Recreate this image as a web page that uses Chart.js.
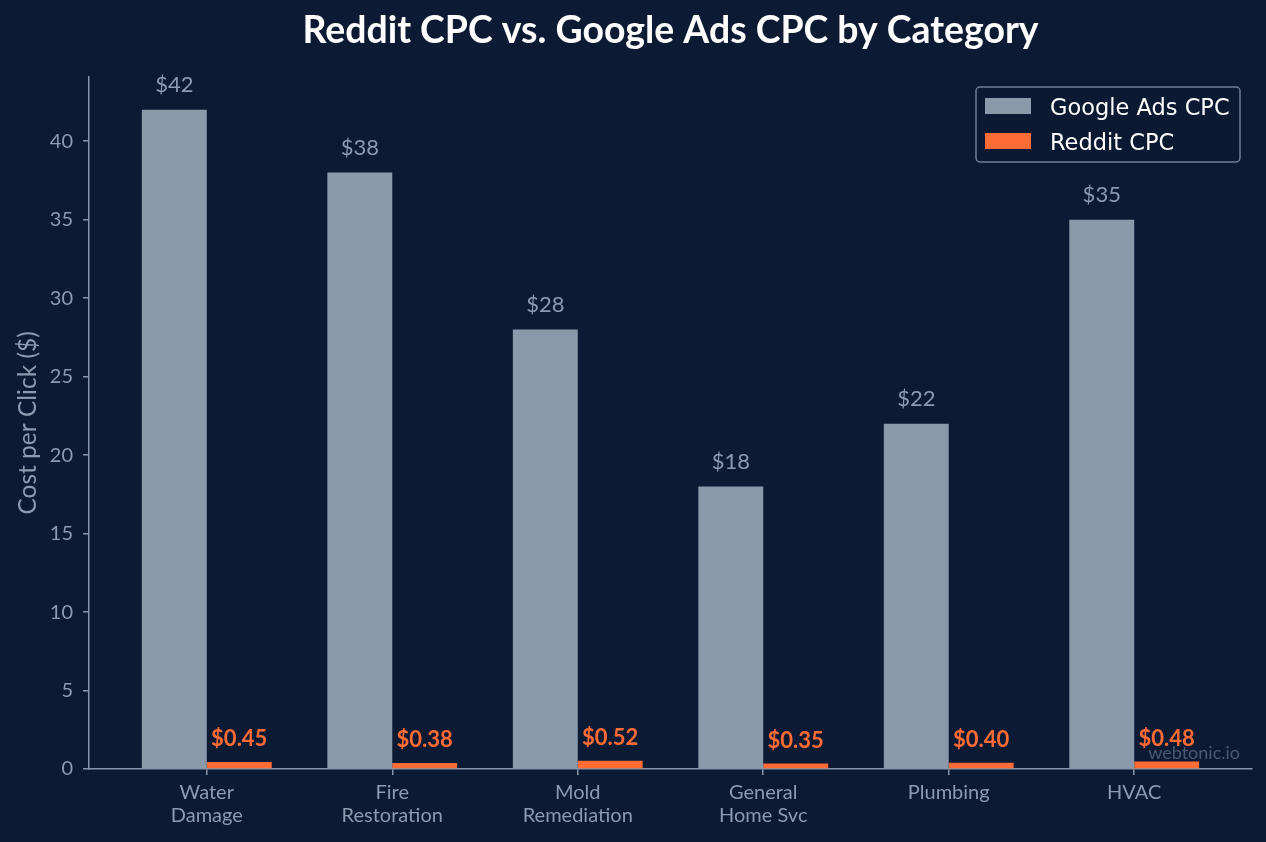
<!DOCTYPE html>
<html>
<head>
<meta charset="utf-8">
<script src="https://cdn.jsdelivr.net/npm/chart.js@4.4.1/dist/chart.umd.min.js"></script>
<style>
  html, body { margin: 0; padding: 0; background: #0c1a33; }
  #wrap { width: 1266px; height: 842px; }
</style>
</head>
<body>
<div id="wrap"><canvas id="cpc"></canvas></div>
<script>
// datos
const categories = [['Water', 'Damage'], ['Fire', 'Restoration'], ['Mold', 'Remediation'], ['General', 'Home Svc'], ['Plumbing'], ['HVAC']];
const googleCpc = [42, 38, 28, 18, 22, 35];
const redditCpc = [0.45, 0.38, 0.52, 0.35, 0.40, 0.48];
const googleLabels = ['$42', '$38', '$28', '$18', '$22', '$35'];
const redditLabels = ['$0.45', '$0.38', '$0.52', '$0.35', '$0.40', '$0.48'];
const yTicks = [0, 5, 10, 15, 20, 25, 30, 35, 40];

const colors = {
  bg: '#0c1a33',
  google: '#8a9aaa',
  reddit: '#ff6b35',
  axis: '#8796ab',
  text: '#8b9bb0',
  mark: '#4a5a72',
};

// etiquetas de valor, leyenda y marca de agua
const overlay = {
  id: 'overlay',
  afterDatasetsDraw(chart) {
    const ctx = chart.ctx;
    ctx.save();
    ctx.textAlign = 'center';
    ctx.textBaseline = 'middle';
    const g = chart.getDatasetMeta(0);
    ctx.font = '22px Lato';
    ctx.fillStyle = colors.text;
    g.data.forEach((el, i) => ctx.fillText(googleLabels[i], el.x, el.y - 25));
    const r = chart.getDatasetMeta(1);
    ctx.font = 'bold 22px Lato';
    ctx.fillStyle = colors.reddit;
    r.data.forEach((el, i) => ctx.fillText(redditLabels[i], el.x, el.y - 23));

    // marca de agua
    ctx.font = '18px Lato';
    ctx.textAlign = 'right';
    ctx.fillStyle = colors.mark;
    ctx.fillText('webtonic.io', 1240, 753);

    // leyenda
    const lx = 976, ly = 87, lw = 264, lh = 75;
    ctx.beginPath();
    ctx.roundRect(lx, ly, lw, lh, 4);
    ctx.fillStyle = 'rgba(12,26,51,0.85)';
    ctx.fill();
    ctx.lineWidth = 1.5;
    ctx.strokeStyle = '#6f7f96';
    ctx.stroke();
    ctx.textAlign = 'left';
    ctx.font = '22.5px "DejaVu Sans"';
    chart.data.datasets.forEach((ds, i) => {
      const y = 106 + i * 35;
      ctx.fillStyle = ds.backgroundColor;
      ctx.fillRect(985, y - 8, 46, 16);
      ctx.fillStyle = '#ffffff';
      ctx.fillText(ds.label, 1050, y + 3);
    });
    ctx.restore();
  }
};

new Chart(document.getElementById('cpc'), {
  type: 'bar',
  data: {
    datasets: [
      {
        label: 'Google Ads CPC',
        data: googleCpc.map((v, i) => ({ x: i, y: v })),
        backgroundColor: colors.google,
      },
      {
        label: 'Reddit CPC',
        data: redditCpc.map((v, i) => ({ x: i, y: v })),
        backgroundColor: colors.reddit,
      },
    ],
  },
  options: {
    responsive: true,
    maintainAspectRatio: false,
    animation: false,
    categoryPercentage: 0.7,
    barPercentage: 1.0,
    layout: { padding: { top: 0, left: 0, right: 14, bottom: 0 } },
    plugins: {
      legend: { display: false },
      tooltip: { enabled: false },
      title: {
        display: true,
        fullSize: false,
        text: 'Reddit CPC vs. Google Ads CPC by Category',
        color: '#ffffff',
        font: { family: 'Lato', size: 37.4, weight: 'bold' },
        padding: { top: 8, bottom: 24 },
      },
    },
    scales: {
      x: {
        type: 'linear',
        offset: false,
        min: -0.635,
        max: 5.635,
        afterBuildTicks: s => { s.ticks = categories.map((_, i) => ({ value: i })); },
        afterFit: s => { s.height = 73; },
        grid: { offset: false, drawOnChartArea: false, drawTicks: true, tickLength: 6, color: colors.axis, lineWidth: 1.5 },
        border: { display: true, color: colors.axis, width: 1.5 },
        ticks: {
          color: colors.text,
          font: { family: 'Lato', size: 20, lineHeight: 1.15 },
          padding: 6,
          maxRotation: 0,
          autoSkip: false,
          callback: v => categories[v],
        },
      },
      y: {
        min: 0,
        max: 44.1,
        afterBuildTicks: s => { s.ticks = yTicks.map(v => ({ value: v })); },
        afterFit: s => { s.width = 89; },
        grid: { drawOnChartArea: false, drawTicks: true, tickLength: 6, color: colors.axis, lineWidth: 1.5 },
        border: { display: true, color: colors.axis, width: 1.5 },
        ticks: {
          color: colors.text,
          font: { family: 'Lato', size: 20 },
          padding: 10,
        },
        title: {
          display: true,
          text: 'Cost per Click ($)',
          color: colors.text,
          font: { family: 'Lato', size: 24.5 },
          padding: { top: 13, bottom: 0 },
        },
      },
    },
  },
  plugins: [overlay],
});
</script>
</body>
</html>
